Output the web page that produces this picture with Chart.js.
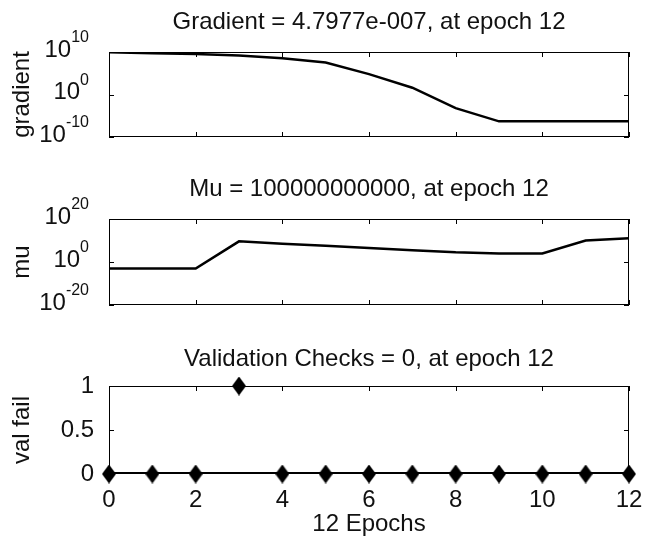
<!DOCTYPE html>
<html>
<head>
<meta charset="utf-8">
<script src="https://cdn.jsdelivr.net/npm/chart.js@4.4.1/dist/chart.umd.min.js"></script>
<style>
  html, body { margin: 0; padding: 0; background: #fff; }
  #wrap { position: relative; width: 648px; height: 536px; overflow: hidden; }
  #wrap canvas { position: absolute; left: 0; top: 0; }
</style>
</head>
<body>
<div id="wrap">
  <canvas id="c1" width="648" height="536"></canvas>
  <canvas id="c2" width="648" height="536"></canvas>
  <canvas id="c3" width="648" height="536"></canvas>
</div>
<script>
// ---------------- data ----------------
const epochs = [0, 1, 2, 3, 4, 5, 6, 7, 8, 9, 10, 11, 12];
const gradientValues = [8.9e9, 5.0e9, 3.2e9, 1.6e9, 3.2e8, 3.2e7, 6.3e4, 40, 6.3e-4, 4.8e-7, 4.8e-7, 4.8e-7, 4.7977e-7];
const muValues = [1e-3, 1e-3, 1e-3, 4.0e9, 3.2e8, 3.2e7, 3.2e6, 3.2e5, 3.2e4, 1e4, 1e4, 1e10, 1e11];
const valFailValues = [0, 0, 0, 1, 0, 0, 0, 0, 0, 0, 0, 0, 0];

const gradientTickExps = [10, 0, -10];
const muTickExps = [20, 0, -20];
const valFailTicks = [0, 0.5, 1];
const valFailTickLabels = ['0', '0.5', '1'];
const epochTicks = [0, 2, 4, 6, 8, 10, 12];

const titles = [
  'Gradient = 4.7977e-007, at epoch 12',
  'Mu = 100000000000, at epoch 12',
  'Validation Checks = 0, at epoch 12'
];
const yLabels = ['gradient', 'mu', 'val fail'];
const xLabel = '12 Epochs';

// ---------------- helpers ----------------
const FONT = "'Liberation Sans', Arial, Helvetica, sans-serif";
const AREA_LEFT = 109, AREA_RIGHT = 629;
const TEXT = '#111';

function pts(vals) { return epochs.map((e, i) => ({ x: e, y: vals[i] })); }

function makeDiamond(w, h) {
  const c = document.createElement('canvas');
  c.width = w; c.height = h;
  const x = c.getContext('2d');
  x.fillStyle = '#000';
  x.beginPath();
  x.moveTo(w / 2, 0); x.lineTo(w, h / 2); x.lineTo(w / 2, h); x.lineTo(0, h / 2);
  x.closePath(); x.fill();
  return c;
}

const matlabPlugin = {
  id: 'matlab',
  afterDatasetsDraw(chart, args, o) {
    const ctx = chart.ctx;
    const a = chart.chartArea;
    const xs = chart.scales.x, ys = chart.scales.y;
    ctx.save();
    ctx.strokeStyle = '#000';
    ctx.lineWidth = 1;
    // box
    ctx.strokeRect(Math.round(a.left) + 0.5, Math.round(a.top) + 0.5,
                   Math.round(a.right - a.left) - 1, Math.round(a.bottom - a.top) - 1);
    if (o.thickBottom) {
      ctx.lineWidth = 2;
      ctx.beginPath();
      ctx.moveTo(a.left, Math.round(a.bottom) - 1);
      ctx.lineTo(a.right, Math.round(a.bottom) - 1);
      ctx.stroke();
      ctx.lineWidth = 1;
    }
    // inward ticks
    const TL = 5;
    ctx.beginPath();
    epochTicks.forEach(v => {
      const px = Math.round(xs.getPixelForValue(v)) + 0.5;
      ctx.moveTo(px, a.bottom); ctx.lineTo(px, a.bottom - TL);
      ctx.moveTo(px, a.top); ctx.lineTo(px, a.top + TL);
    });
    o.yTickValues.forEach(v => {
      const py = Math.round(ys.getPixelForValue(v)) + 0.5;
      ctx.moveTo(a.left, py); ctx.lineTo(a.left + TL, py);
      ctx.moveTo(a.right, py); ctx.lineTo(a.right - TL, py);
    });
    ctx.stroke();

    ctx.fillStyle = TEXT;
    // title
    ctx.font = '24px ' + FONT;
    ctx.textAlign = 'center';
    ctx.textBaseline = 'middle';
    ctx.fillText(o.title, (a.left + a.right) / 2, a.top - o.titleGap);
    // y label (rotated)
    ctx.save();
    ctx.translate(o.yLabelX, (a.top + a.bottom) / 2);
    ctx.rotate(-Math.PI / 2);
    ctx.fillText(o.yLabel, 0, 0);
    ctx.restore();
    // superscript log tick labels
    if (o.supExps) {
      o.supExps.forEach(ex => {
        const py = ys.getPixelForValue(Math.pow(10, ex));
        ctx.font = '24px ' + FONT;
        const wBase = ctx.measureText('10').width;
        ctx.font = '16px ' + FONT;
        const expTxt = ex < 0 ? '-' + Math.abs(ex) : String(ex);
        const wExp = ctx.measureText(expTxt).width;
        const right = o.supRight;
        ctx.textAlign = 'left';
        ctx.textBaseline = 'middle';
        ctx.font = '24px ' + FONT;
        ctx.fillText('10', right - wExp - wBase, py - 2);
        ctx.font = '16px ' + FONT;
        ctx.fillText(expTxt, right - wExp, py - 14);
      });
    }
    // x label
    if (o.xLabel) {
      ctx.font = '24px ' + FONT;
      ctx.textAlign = 'center';
      ctx.textBaseline = 'middle';
      ctx.fillText(o.xLabel, (a.left + a.right) / 2, o.xLabelY);
    }
    ctx.restore();
  }
};

function logOptions(min, max, exps, idx, top, bottom) {
  return {
    responsive: false,
    animation: false,
    events: [],
    layout: { padding: { left: 0, right: 648 - AREA_RIGHT, top: top, bottom: 536 - bottom } },
    plugins: {
      legend: { display: false },
      tooltip: { enabled: false },
      title: { display: false },
      matlab: {
        title: titles[idx], titleGap: 30, yLabel: yLabels[idx], yLabelX: 22,
        supExps: exps, supRight: 89,
        yTickValues: exps.map(e => Math.pow(10, e))
      }
    },
    scales: {
      x: {
        type: 'linear', min: 0, max: 12,
        grid: { display: false }, border: { display: false },
        ticks: { display: false, stepSize: 2 },
        afterFit: s => { s.height = 0; }
      },
      y: {
        type: 'logarithmic', min: min, max: max,
        grid: { display: false }, border: { display: false },
        ticks: { display: false },
        afterFit: s => { s.width = AREA_LEFT; }
      }
    }
  };
}

const lineStyle = {
  borderColor: '#000', backgroundColor: '#000', borderWidth: 2.5,
  pointRadius: 0, tension: 0, fill: false
};

new Chart(document.getElementById('c1'), {
  type: 'line',
  data: { datasets: [Object.assign({ data: pts(gradientValues) }, lineStyle)] },
  options: logOptions(1e-10, 1e10, gradientTickExps, 0, 52, 137),
  plugins: [matlabPlugin]
});

new Chart(document.getElementById('c2'), {
  type: 'line',
  data: { datasets: [Object.assign({ data: pts(muValues) }, lineStyle)] },
  options: logOptions(1e-20, 1e20, muTickExps, 1, 219, 305),
  plugins: [matlabPlugin]
});

new Chart(document.getElementById('c3'), {
  type: 'line',
  data: {
    datasets: [{
      data: pts(valFailValues),
      showLine: false,
      pointStyle: makeDiamond(14, 19),
      pointRadius: 9,
      borderColor: '#000', backgroundColor: '#000',
      clip: false
    }]
  },
  options: {
    responsive: false,
    animation: false,
    events: [],
    layout: { padding: { left: 0, right: 648 - AREA_RIGHT, top: 386, bottom: 0 } },
    plugins: {
      legend: { display: false },
      tooltip: { enabled: false },
      title: { display: false },
      matlab: {
        title: titles[2], titleGap: 27, yLabel: yLabels[2], yLabelX: 22,
        supExps: null, yTickValues: valFailTicks, thickBottom: true,
        xLabel: xLabel, xLabelY: 524
      }
    },
    scales: {
      x: {
        type: 'linear', min: 0, max: 12,
        grid: { display: false }, border: { display: false },
        afterBuildTicks: s => { s.ticks = epochTicks.map(v => ({ value: v })); },
        ticks: { color: TEXT, font: { family: FONT, size: 24 }, padding: 4, maxRotation: 0, autoSkip: false },
        afterFit: s => { s.height = 536 - 474; }
      },
      y: {
        type: 'linear', min: 0, max: 1,
        grid: { display: false }, border: { display: false },
        afterBuildTicks: s => { s.ticks = valFailTicks.map(v => ({ value: v })); },
        ticks: {
          color: TEXT, font: { family: FONT, size: 24 }, padding: 7,
          callback: (v) => valFailTickLabels[valFailTicks.indexOf(v)]
        },
        afterFit: s => { s.width = AREA_LEFT; }
      }
    }
  },
  plugins: [matlabPlugin]
});
</script>
</body>
</html>
